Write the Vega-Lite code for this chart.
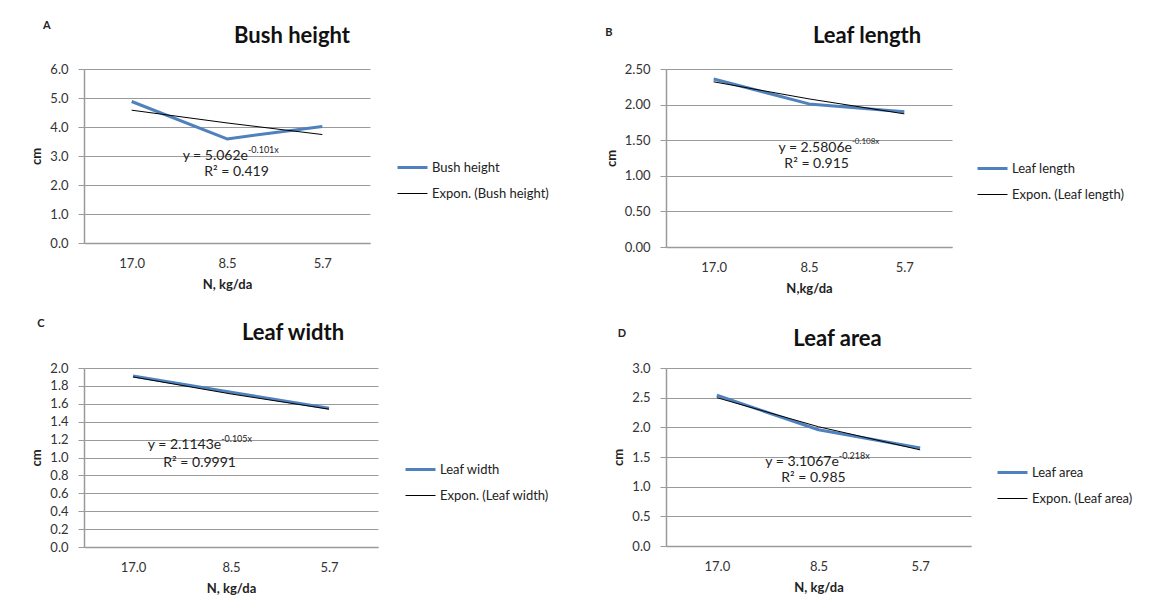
{
  "$schema": "https://vega.github.io/schema/vega-lite/v6.json",
  "background": "white",
  "padding": {"left": 30, "top": 20, "right": 5, "bottom": 5},
  "config": {
    "font": "Lato",
    "view": {"stroke": null},
    "axis": {
      "labelFont": "Lato", "labelFontSize": 13, "labelColor": "#333333",
      "titleFont": "Lato", "titleFontSize": 13, "titleFontWeight": "bold", "titleColor": "#222222",
      "domainColor": "#9a9a9a", "gridColor": "#9a9a9a", "tickColor": "#9a9a9a", "domainWidth": 1.5
    },
    "axisX": {"labelPadding": 14, "titlePadding": 8, "grid": false, "ticks": false},
    "axisY": {"tickSize": 6, "labelPadding": 10, "titlePadding": 6},
    "title": {"font": "Lato", "fontSize": 22, "fontWeight": "bold", "color": "#111111"},
    "legend": {"labelFont": "Lato", "labelFontSize": 13, "labelColor": "#222222", "orient": "none", "symbolType": "stroke", "symbolSize": 900, "rowPadding": 3, "labelOffset": 3},
    "text": {"font": "Lato", "color": "#222222"}
  },
  "columns": 2,
  "bounds": "flush",
  "spacing": {"row": 121, "column": 288},
  "concat": [
    {
      "width": 286, "height": 174,
      "title": {"text": "Bush height", "anchor": "middle", "dx": 65, "offset": -28},
      "data": {"values": [
        {"n": "17.0", "idx": 1, "series": "Bush height", "kind": "data", "cm": 4.88},
        {"n": "8.5", "idx": 2, "series": "Bush height", "kind": "data", "cm": 3.59},
        {"n": "5.7", "idx": 3, "series": "Bush height", "kind": "data", "cm": 4.02},
        {"n": "17.0", "idx": 1, "series": "Expon. (Bush height)", "kind": "trend", "cm": 4.58},
        {"n": "8.5", "idx": 2, "series": "Expon. (Bush height)", "kind": "trend", "cm": 4.14},
        {"n": "5.7", "idx": 3, "series": "Expon. (Bush height)", "kind": "trend", "cm": 3.74}
      ]},
      "layer": [
        {"transform": [{"filter": "datum.kind == 'data'"}], "mark": {"type": "line", "strokeJoin": "round"},
          "encoding": {
            "x": {"field": "idx", "type": "quantitative", "scale": {"domain": [0.5, 3.5]}, "axis": {"title": "N, kg/da", "values": [1, 2, 3], "labelExpr": "datum.value == 1 ? '17.0' : datum.value == 2 ? '8.5' : '5.7'"}},
            "y": {"field": "cm", "type": "quantitative", "scale": {"domain": [0, 6]}, "axis": {"title": "cm", "values": [0, 1, 2, 3, 4, 5, 6], "format": ".1f"}},
            "color": {"field": "series", "type": "nominal", "scale": {"domain": ["Bush height", "Expon. (Bush height)"], "range": ["#4F81BD", "#000000"]},
              "legend": {"legendX": 312, "legendY": 82, "title": null}},
            "strokeWidth": {"field": "series", "type": "nominal", "scale": {"domain": ["Bush height", "Expon. (Bush height)"], "range": [3, 1]},
              "legend": {"legendX": 312, "legendY": 82, "title": null}}
          }},
        {"transform": [{"filter": "datum.kind == 'trend'"}], "mark": {"type": "line"},
          "encoding": {
            "x": {"field": "idx", "type": "quantitative", "scale": {"domain": [0.5, 3.5]}, "axis": {"title": "N, kg/da", "values": [1, 2, 3], "labelExpr": "datum.value == 1 ? '17.0' : datum.value == 2 ? '8.5' : '5.7'"}},
            "y": {"field": "cm", "type": "quantitative", "scale": {"domain": [0, 6]}, "axis": {"title": "cm", "values": [0, 1, 2, 3, 4, 5, 6], "format": ".1f"}},
            "color": {"field": "series", "type": "nominal"},
            "strokeWidth": {"field": "series", "type": "nominal"}
          }},
        {"data": {"values": [{"label": "y = 5.062e"}]}, "mark": {"type": "text", "align": "right", "baseline": "middle", "fontSize": 14},
          "encoding": {
            "x": {"datum": 2.22, "type": "quantitative", "scale": {"domain": [0.5, 3.5]}, "axis": {"title": "N, kg/da", "values": [1, 2, 3], "labelExpr": "datum.value == 1 ? '17.0' : datum.value == 2 ? '8.5' : '5.7'"}},
            "y": {"datum": 3.0, "type": "quantitative", "scale": {"domain": [0, 6]}, "axis": {"title": "cm", "values": [0, 1, 2, 3, 4, 5, 6], "format": ".1f"}},
            "text": {"field": "label"}}},
        {"data": {"values": [{"label": "-0.101x"}]}, "mark": {"type": "text", "align": "left", "baseline": "middle", "fontSize": 9, "dy": -6},
          "encoding": {
            "x": {"datum": 2.22, "type": "quantitative", "scale": {"domain": [0.5, 3.5]}, "axis": {"title": "N, kg/da", "values": [1, 2, 3], "labelExpr": "datum.value == 1 ? '17.0' : datum.value == 2 ? '8.5' : '5.7'"}},
            "y": {"datum": 3.0, "type": "quantitative", "scale": {"domain": [0, 6]}, "axis": {"title": "cm", "values": [0, 1, 2, 3, 4, 5, 6], "format": ".1f"}},
            "text": {"field": "label"}}},
        {"data": {"values": [{"label": "R² = 0.419"}]}, "mark": {"type": "text", "align": "center", "baseline": "middle", "fontSize": 14},
          "encoding": {
            "x": {"datum": 2.1, "type": "quantitative", "scale": {"domain": [0.5, 3.5]}, "axis": {"title": "N, kg/da", "values": [1, 2, 3], "labelExpr": "datum.value == 1 ? '17.0' : datum.value == 2 ? '8.5' : '5.7'"}},
            "y": {"datum": 2.46, "type": "quantitative", "scale": {"domain": [0, 6]}, "axis": {"title": "cm", "values": [0, 1, 2, 3, 4, 5, 6], "format": ".1f"}},
            "text": {"field": "label"}}},
        {"data": {"values": [{"label": "A"}]}, "mark": {"type": "text", "align": "center", "baseline": "middle", "fontSize": 11, "fontWeight": "bold"},
          "encoding": {
            "x": {"datum": 0.11, "type": "quantitative", "scale": {"domain": [0.5, 3.5]}, "axis": {"title": "N, kg/da", "values": [1, 2, 3], "labelExpr": "datum.value == 1 ? '17.0' : datum.value == 2 ? '8.5' : '5.7'"}},
            "y": {"datum": 7.48, "type": "quantitative", "scale": {"domain": [0, 6]}, "axis": {"title": "cm", "values": [0, 1, 2, 3, 4, 5, 6], "format": ".1f"}},
            "text": {"field": "label"}}}
      ]
    },
    {
      "width": 286, "height": 178,
      "title": {"text": "Leaf length", "anchor": "middle", "dx": 58, "offset": -21},
      "data": {"values": [
        {"n": "17.0", "idx": 1, "series": "Leaf length", "kind": "data", "cm": 2.36},
        {"n": "8.5", "idx": 2, "series": "Leaf length", "kind": "data", "cm": 2.01},
        {"n": "5.7", "idx": 3, "series": "Leaf length", "kind": "data", "cm": 1.9},
        {"n": "17.0", "idx": 1, "series": "Expon. (Leaf length)", "kind": "trend", "cm": 2.32},
        {"n": "8.5", "idx": 2, "series": "Expon. (Leaf length)", "kind": "trend", "cm": 2.08},
        {"n": "5.7", "idx": 3, "series": "Expon. (Leaf length)", "kind": "trend", "cm": 1.87}
      ]},
      "layer": [
        {"transform": [{"filter": "datum.kind == 'data'"}], "mark": {"type": "line", "strokeJoin": "round"},
          "encoding": {
            "x": {"field": "idx", "type": "quantitative", "scale": {"domain": [0.5, 3.5]}, "axis": {"title": "N,kg/da", "values": [1, 2, 3], "labelExpr": "datum.value == 1 ? '17.0' : datum.value == 2 ? '8.5' : '5.7'"}},
            "y": {"field": "cm", "type": "quantitative", "scale": {"domain": [0, 2.5]}, "axis": {"title": "cm", "values": [0, 0.5, 1, 1.5, 2, 2.5], "format": ".2f"}},
            "color": {"field": "series", "type": "nominal", "scale": {"domain": ["Leaf length", "Expon. (Leaf length)"], "range": ["#4F81BD", "#000000"]},
              "legend": {"legendX": 310, "legendY": 83, "title": null}},
            "strokeWidth": {"field": "series", "type": "nominal", "scale": {"domain": ["Leaf length", "Expon. (Leaf length)"], "range": [3, 1]},
              "legend": {"legendX": 310, "legendY": 83, "title": null}}
          }},
        {"transform": [{"filter": "datum.kind == 'trend'"}], "mark": {"type": "line"},
          "encoding": {
            "x": {"field": "idx", "type": "quantitative", "scale": {"domain": [0.5, 3.5]}, "axis": {"title": "N,kg/da", "values": [1, 2, 3], "labelExpr": "datum.value == 1 ? '17.0' : datum.value == 2 ? '8.5' : '5.7'"}},
            "y": {"field": "cm", "type": "quantitative", "scale": {"domain": [0, 2.5]}, "axis": {"title": "cm", "values": [0, 0.5, 1, 1.5, 2, 2.5], "format": ".2f"}},
            "color": {"field": "series", "type": "nominal"},
            "strokeWidth": {"field": "series", "type": "nominal"}
          }},
        {"data": {"values": [{"label": "y = 2.5806e"}]}, "mark": {"type": "text", "align": "right", "baseline": "middle", "fontSize": 14},
          "encoding": {
            "x": {"datum": 2.45, "type": "quantitative", "scale": {"domain": [0.5, 3.5]}, "axis": {"title": "N,kg/da", "values": [1, 2, 3], "labelExpr": "datum.value == 1 ? '17.0' : datum.value == 2 ? '8.5' : '5.7'"}},
            "y": {"datum": 1.39, "type": "quantitative", "scale": {"domain": [0, 2.5]}, "axis": {"title": "cm", "values": [0, 0.5, 1, 1.5, 2, 2.5], "format": ".2f"}},
            "text": {"field": "label"}}},
        {"data": {"values": [{"label": "-0.108x"}]}, "mark": {"type": "text", "align": "left", "baseline": "middle", "fontSize": 8, "dy": -6},
          "encoding": {
            "x": {"datum": 2.45, "type": "quantitative", "scale": {"domain": [0.5, 3.5]}, "axis": {"title": "N,kg/da", "values": [1, 2, 3], "labelExpr": "datum.value == 1 ? '17.0' : datum.value == 2 ? '8.5' : '5.7'"}},
            "y": {"datum": 1.39, "type": "quantitative", "scale": {"domain": [0, 2.5]}, "axis": {"title": "cm", "values": [0, 0.5, 1, 1.5, 2, 2.5], "format": ".2f"}},
            "text": {"field": "label"}}},
        {"data": {"values": [{"label": "R² = 0.915"}]}, "mark": {"type": "text", "align": "center", "baseline": "middle", "fontSize": 14},
          "encoding": {
            "x": {"datum": 2.08, "type": "quantitative", "scale": {"domain": [0.5, 3.5]}, "axis": {"title": "N,kg/da", "values": [1, 2, 3], "labelExpr": "datum.value == 1 ? '17.0' : datum.value == 2 ? '8.5' : '5.7'"}},
            "y": {"datum": 1.16, "type": "quantitative", "scale": {"domain": [0, 2.5]}, "axis": {"title": "cm", "values": [0, 0.5, 1, 1.5, 2, 2.5], "format": ".2f"}},
            "text": {"field": "label"}}},
        {"data": {"values": [{"label": "B"}]}, "mark": {"type": "text", "align": "center", "baseline": "middle", "fontSize": 11, "fontWeight": "bold"},
          "encoding": {
            "x": {"datum": -0.1, "type": "quantitative", "scale": {"domain": [0.5, 3.5]}, "axis": {"title": "N,kg/da", "values": [1, 2, 3], "labelExpr": "datum.value == 1 ? '17.0' : datum.value == 2 ? '8.5' : '5.7'"}},
            "y": {"datum": 3.0, "type": "quantitative", "scale": {"domain": [0, 2.5]}, "axis": {"title": "cm", "values": [0, 0.5, 1, 1.5, 2, 2.5], "format": ".2f"}},
            "text": {"field": "label"}}}
      ]
    },
    {
      "width": 294, "height": 179,
      "title": {"text": "Leaf width", "anchor": "middle", "dx": 62, "offset": -27},
      "data": {"values": [
        {"n": "17.0", "idx": 1, "series": "Leaf width", "kind": "data", "cm": 1.91},
        {"n": "8.5", "idx": 2, "series": "Leaf width", "kind": "data", "cm": 1.73},
        {"n": "5.7", "idx": 3, "series": "Leaf width", "kind": "data", "cm": 1.55},
        {"n": "17.0", "idx": 1, "series": "Expon. (Leaf width)", "kind": "trend", "cm": 1.9},
        {"n": "8.5", "idx": 2, "series": "Expon. (Leaf width)", "kind": "trend", "cm": 1.71},
        {"n": "5.7", "idx": 3, "series": "Expon. (Leaf width)", "kind": "trend", "cm": 1.54}
      ]},
      "layer": [
        {"transform": [{"filter": "datum.kind == 'data'"}], "mark": {"type": "line", "strokeJoin": "round"},
          "encoding": {
            "x": {"field": "idx", "type": "quantitative", "scale": {"domain": [0.5, 3.5]}, "axis": {"title": "N, kg/da", "values": [1, 2, 3], "labelExpr": "datum.value == 1 ? '17.0' : datum.value == 2 ? '8.5' : '5.7'"}},
            "y": {"field": "cm", "type": "quantitative", "scale": {"domain": [0, 2]}, "axis": {"title": "cm", "values": [0, 0.2, 0.4, 0.6, 0.8, 1, 1.2, 1.4, 1.6, 1.8, 2], "format": ".1f"}},
            "color": {"field": "series", "type": "nominal", "scale": {"domain": ["Leaf width", "Expon. (Leaf width)"], "range": ["#4F81BD", "#000000"]},
              "legend": {"legendX": 320, "legendY": 85, "title": null}},
            "strokeWidth": {"field": "series", "type": "nominal", "scale": {"domain": ["Leaf width", "Expon. (Leaf width)"], "range": [3, 1]},
              "legend": {"legendX": 320, "legendY": 85, "title": null}}
          }},
        {"transform": [{"filter": "datum.kind == 'trend'"}], "mark": {"type": "line"},
          "encoding": {
            "x": {"field": "idx", "type": "quantitative", "scale": {"domain": [0.5, 3.5]}, "axis": {"title": "N, kg/da", "values": [1, 2, 3], "labelExpr": "datum.value == 1 ? '17.0' : datum.value == 2 ? '8.5' : '5.7'"}},
            "y": {"field": "cm", "type": "quantitative", "scale": {"domain": [0, 2]}, "axis": {"title": "cm", "values": [0, 0.2, 0.4, 0.6, 0.8, 1, 1.2, 1.4, 1.6, 1.8, 2], "format": ".1f"}},
            "color": {"field": "series", "type": "nominal"},
            "strokeWidth": {"field": "series", "type": "nominal"}
          }},
        {"data": {"values": [{"label": "y = 2.1143e"}]}, "mark": {"type": "text", "align": "right", "baseline": "middle", "fontSize": 14},
          "encoding": {
            "x": {"datum": 1.9, "type": "quantitative", "scale": {"domain": [0.5, 3.5]}, "axis": {"title": "N, kg/da", "values": [1, 2, 3], "labelExpr": "datum.value == 1 ? '17.0' : datum.value == 2 ? '8.5' : '5.7'"}},
            "y": {"datum": 1.14, "type": "quantitative", "scale": {"domain": [0, 2]}, "axis": {"title": "cm", "values": [0, 0.2, 0.4, 0.6, 0.8, 1, 1.2, 1.4, 1.6, 1.8, 2], "format": ".1f"}},
            "text": {"field": "label"}}},
        {"data": {"values": [{"label": "-0.105x"}]}, "mark": {"type": "text", "align": "left", "baseline": "middle", "fontSize": 9, "dy": -6},
          "encoding": {
            "x": {"datum": 1.9, "type": "quantitative", "scale": {"domain": [0.5, 3.5]}, "axis": {"title": "N, kg/da", "values": [1, 2, 3], "labelExpr": "datum.value == 1 ? '17.0' : datum.value == 2 ? '8.5' : '5.7'"}},
            "y": {"datum": 1.14, "type": "quantitative", "scale": {"domain": [0, 2]}, "axis": {"title": "cm", "values": [0, 0.2, 0.4, 0.6, 0.8, 1, 1.2, 1.4, 1.6, 1.8, 2], "format": ".1f"}},
            "text": {"field": "label"}}},
        {"data": {"values": [{"label": "R² = 0.9991"}]}, "mark": {"type": "text", "align": "center", "baseline": "middle", "fontSize": 14},
          "encoding": {
            "x": {"datum": 1.68, "type": "quantitative", "scale": {"domain": [0.5, 3.5]}, "axis": {"title": "N, kg/da", "values": [1, 2, 3], "labelExpr": "datum.value == 1 ? '17.0' : datum.value == 2 ? '8.5' : '5.7'"}},
            "y": {"datum": 0.94, "type": "quantitative", "scale": {"domain": [0, 2]}, "axis": {"title": "cm", "values": [0, 0.2, 0.4, 0.6, 0.8, 1, 1.2, 1.4, 1.6, 1.8, 2], "format": ".1f"}},
            "text": {"field": "label"}}},
        {"data": {"values": [{"label": "C"}]}, "mark": {"type": "text", "align": "center", "baseline": "middle", "fontSize": 11, "fontWeight": "bold"},
          "encoding": {
            "x": {"datum": 0.06, "type": "quantitative", "scale": {"domain": [0.5, 3.5]}, "axis": {"title": "N, kg/da", "values": [1, 2, 3], "labelExpr": "datum.value == 1 ? '17.0' : datum.value == 2 ? '8.5' : '5.7'"}},
            "y": {"datum": 2.49, "type": "quantitative", "scale": {"domain": [0, 2]}, "axis": {"title": "cm", "values": [0, 0.2, 0.4, 0.6, 0.8, 1, 1.2, 1.4, 1.6, 1.8, 2], "format": ".1f"}},
            "text": {"field": "label"}}}
      ]
    },
    {
      "width": 305, "height": 178,
      "title": {"text": "Leaf area", "anchor": "middle", "dx": 19, "offset": -23},
      "data": {"values": [
        {"n": "17.0", "idx": 1, "series": "Leaf area", "kind": "data", "cm": 2.54},
        {"n": "8.5", "idx": 2, "series": "Leaf area", "kind": "data", "cm": 1.96},
        {"n": "5.7", "idx": 3, "series": "Leaf area", "kind": "data", "cm": 1.65},
        {"n": "17.0", "idx": 1, "series": "Expon. (Leaf area)", "kind": "trend", "cm": 2.5},
        {"n": "8.5", "idx": 2, "series": "Expon. (Leaf area)", "kind": "trend", "cm": 2.01},
        {"n": "5.7", "idx": 3, "series": "Expon. (Leaf area)", "kind": "trend", "cm": 1.62}
      ]},
      "layer": [
        {"transform": [{"filter": "datum.kind == 'data'"}], "mark": {"type": "line", "strokeJoin": "round"},
          "encoding": {
            "x": {"field": "idx", "type": "quantitative", "scale": {"domain": [0.5, 3.5]}, "axis": {"title": "N, kg/da", "values": [1, 2, 3], "labelExpr": "datum.value == 1 ? '17.0' : datum.value == 2 ? '8.5' : '5.7'"}},
            "y": {"field": "cm", "type": "quantitative", "scale": {"domain": [0, 3]}, "axis": {"title": "cm", "values": [0, 0.5, 1, 1.5, 2, 2.5, 3], "format": ".1f"}},
            "color": {"field": "series", "type": "nominal", "scale": {"domain": ["Leaf area", "Expon. (Leaf area)"], "range": ["#4F81BD", "#000000"]},
              "legend": {"legendX": 330, "legendY": 88, "title": null}},
            "strokeWidth": {"field": "series", "type": "nominal", "scale": {"domain": ["Leaf area", "Expon. (Leaf area)"], "range": [3, 1]},
              "legend": {"legendX": 330, "legendY": 88, "title": null}}
          }},
        {"transform": [{"filter": "datum.kind == 'trend'"}], "mark": {"type": "line"},
          "encoding": {
            "x": {"field": "idx", "type": "quantitative", "scale": {"domain": [0.5, 3.5]}, "axis": {"title": "N, kg/da", "values": [1, 2, 3], "labelExpr": "datum.value == 1 ? '17.0' : datum.value == 2 ? '8.5' : '5.7'"}},
            "y": {"field": "cm", "type": "quantitative", "scale": {"domain": [0, 3]}, "axis": {"title": "cm", "values": [0, 0.5, 1, 1.5, 2, 2.5, 3], "format": ".1f"}},
            "color": {"field": "series", "type": "nominal"},
            "strokeWidth": {"field": "series", "type": "nominal"}
          }},
        {"data": {"values": [{"label": "y = 3.1067e"}]}, "mark": {"type": "text", "align": "right", "baseline": "middle", "fontSize": 14},
          "encoding": {
            "x": {"datum": 2.2, "type": "quantitative", "scale": {"domain": [0.5, 3.5]}, "axis": {"title": "N, kg/da", "values": [1, 2, 3], "labelExpr": "datum.value == 1 ? '17.0' : datum.value == 2 ? '8.5' : '5.7'"}},
            "y": {"datum": 1.42, "type": "quantitative", "scale": {"domain": [0, 3]}, "axis": {"title": "cm", "values": [0, 0.5, 1, 1.5, 2, 2.5, 3], "format": ".1f"}},
            "text": {"field": "label"}}},
        {"data": {"values": [{"label": "-0.218x"}]}, "mark": {"type": "text", "align": "left", "baseline": "middle", "fontSize": 9, "dy": -6},
          "encoding": {
            "x": {"datum": 2.2, "type": "quantitative", "scale": {"domain": [0.5, 3.5]}, "axis": {"title": "N, kg/da", "values": [1, 2, 3], "labelExpr": "datum.value == 1 ? '17.0' : datum.value == 2 ? '8.5' : '5.7'"}},
            "y": {"datum": 1.42, "type": "quantitative", "scale": {"domain": [0, 3]}, "axis": {"title": "cm", "values": [0, 0.5, 1, 1.5, 2, 2.5, 3], "format": ".1f"}},
            "text": {"field": "label"}}},
        {"data": {"values": [{"label": "R² = 0.985"}]}, "mark": {"type": "text", "align": "center", "baseline": "middle", "fontSize": 14},
          "encoding": {
            "x": {"datum": 1.95, "type": "quantitative", "scale": {"domain": [0.5, 3.5]}, "axis": {"title": "N, kg/da", "values": [1, 2, 3], "labelExpr": "datum.value == 1 ? '17.0' : datum.value == 2 ? '8.5' : '5.7'"}},
            "y": {"datum": 1.15, "type": "quantitative", "scale": {"domain": [0, 3]}, "axis": {"title": "cm", "values": [0, 0.5, 1, 1.5, 2, 2.5, 3], "format": ".1f"}},
            "text": {"field": "label"}}},
        {"data": {"values": [{"label": "D"}]}, "mark": {"type": "text", "align": "center", "baseline": "middle", "fontSize": 11, "fontWeight": "bold"},
          "encoding": {
            "x": {"datum": 0.066, "type": "quantitative", "scale": {"domain": [0.5, 3.5]}, "axis": {"title": "N, kg/da", "values": [1, 2, 3], "labelExpr": "datum.value == 1 ? '17.0' : datum.value == 2 ? '8.5' : '5.7'"}},
            "y": {"datum": 3.58, "type": "quantitative", "scale": {"domain": [0, 3]}, "axis": {"title": "cm", "values": [0, 0.5, 1, 1.5, 2, 2.5, 3], "format": ".1f"}},
            "text": {"field": "label"}}}
      ]
    }
  ],
  "resolve": {"scale": {"color": "independent", "strokeWidth": "independent", "x": "independent", "y": "independent"}, "legend": {"color": "independent", "strokeWidth": "independent"}}
}
